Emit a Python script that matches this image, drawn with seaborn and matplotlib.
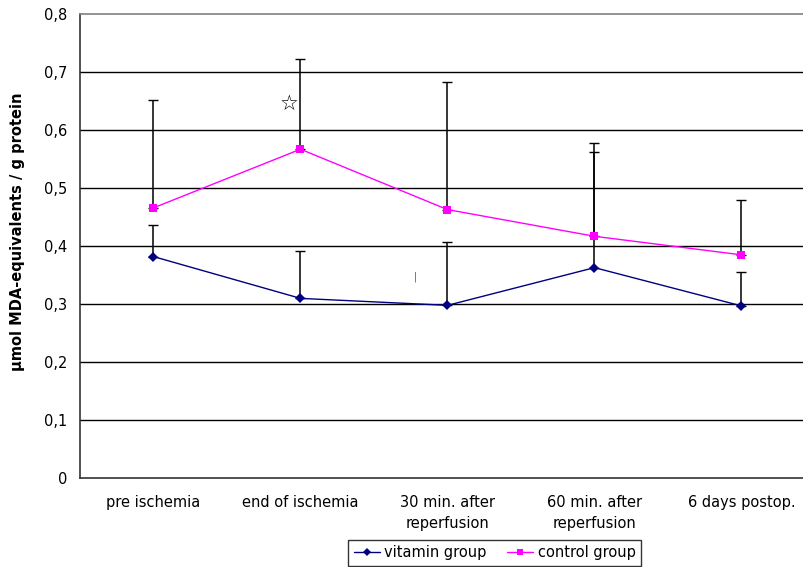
import matplotlib
matplotlib.use("Agg")
import matplotlib.pyplot as plt
from matplotlib.lines import Line2D
import seaborn as sns
import numpy as np
import pandas as pd

# Time points and MDA measurements
categories = ["pre ischemia", "end of ischemia", "30 min. after\nreperfusion",
              "60 min. after\nreperfusion", "6 days postop."]
vitamin_mean = [0.382, 0.310, 0.298, 0.363, 0.297]
vitamin_upper = [0.437, 0.391, 0.408, 0.562, 0.355]
control_mean = [0.466, 0.567, 0.463, 0.417, 0.385]
control_upper = [0.652, 0.723, 0.683, 0.577, 0.479]
y_ticks = [0.0, 0.1, 0.2, 0.3, 0.4, 0.5, 0.6, 0.7, 0.8]
y_tick_labels = ["0", "0,1", "0,2", "0,3", "0,4", "0,5", "0,6", "0,7", "0,8"]

sns.set_theme(style="white")
plt.rcParams["font.family"] = ["DejaVu Sans"]
plt.rcParams["text.color"] = "black"
plt.rcParams["xtick.color"] = "black"
plt.rcParams["ytick.color"] = "black"
plt.rcParams["axes.labelcolor"] = "black"

pos = np.arange(len(categories))
df = pd.DataFrame({
    "pos": np.concatenate([pos, pos]),
    "value": vitamin_mean + control_mean,
    "group": ["vitamin group"] * len(pos) + ["control group"] * len(pos),
})

fig = plt.figure(figsize=(8.04, 5.67), dpi=100)
ax = fig.add_axes([80 / 804, 1 - 478.3 / 567, (815 - 80) / 804, (478.3 - 14) / 567])

# horizontal grid lines
for yv in y_ticks[1:-1]:
    ax.axhline(yv, color="black", lw=1.0, zorder=1)

# error bars (upper side only)
for mean, upper in [(vitamin_mean, vitamin_upper), (control_mean, control_upper)]:
    m = np.array(mean)
    up = np.array(upper) - m
    ax.errorbar(pos, m, yerr=[np.zeros_like(up), up], fmt="none", ecolor="black",
                elinewidth=1.1, capsize=3.5, capthick=1.0, zorder=2)

palette = {"vitamin group": "#000080", "control group": "#FF00FF"}
sns.lineplot(data=df, x="pos", y="value", hue="group", style="group",
             markers={"vitamin group": "D", "control group": "s"},
             dashes=False, palette=palette, linewidth=1.0,
             markersize=6, markeredgewidth=0, ax=ax, zorder=5, legend=False)
for ln in ax.get_lines():
    if ln.get_marker() == "D":
        ln.set_markersize(5)

ax.set_xlim(-0.5, len(categories) - 0.5)
ax.set_ylim(0, 0.8)
ax.set_yticks(y_ticks)
ax.set_yticklabels(y_tick_labels, fontsize=10.5)
ax.set_xticks(pos)
ax.set_xticklabels(categories, fontsize=10.5, linespacing=1.5, va="top")
ax.set_xticks(np.arange(-0.5, len(categories), 1.0), minor=True)
ax.tick_params(axis="x", which="major", length=0, pad=12)
ax.tick_params(axis="x", which="minor", length=5, width=1, color="#444444", direction="out")
ax.tick_params(axis="y", which="major", length=5, width=1, color="#333333",
               direction="out", pad=4)
ax.set_xlabel("")
ax.set_ylabel("µmol MDA-equivalents / g protein", fontsize=10.5, fontweight="bold")
ax.yaxis.set_label_coords(-0.075, 0.53)

for side in ["left", "bottom"]:
    ax.spines[side].set_color("#333333")
    ax.spines[side].set_linewidth(1.2)
ax.spines["top"].set_color("#808080")
ax.spines["top"].set_linewidth(1.2)
ax.spines["right"].set_visible(False)

# significance marker and small tick
ax.text(0.922, 0.645, "☆", fontsize=15, fontweight="bold", ha="center", va="center",
        color="black")
ax.text(1.784, 0.347, "|", fontsize=7, ha="center", va="center", color="#555555")

handles = [
    Line2D([], [], color="#000080", marker="D", markersize=4, lw=1.0, markeredgewidth=0),
    Line2D([], [], color="#FF00FF", marker="s", markersize=5, lw=1.0, markeredgewidth=0),
]
leg = fig.legend(handles, ["vitamin group", "control group"], loc="center",
                 bbox_to_anchor=(494.5 / 804, 1 - 553 / 567), ncol=2, fontsize=10.5,
                 frameon=True, fancybox=False, handlelength=1.8, handletextpad=0.3,
                 columnspacing=1.4, borderpad=0.35, borderaxespad=0)
leg.get_frame().set_edgecolor("black")
leg.get_frame().set_linewidth(1.0)

fig.savefig("out.png", dpi=100)
